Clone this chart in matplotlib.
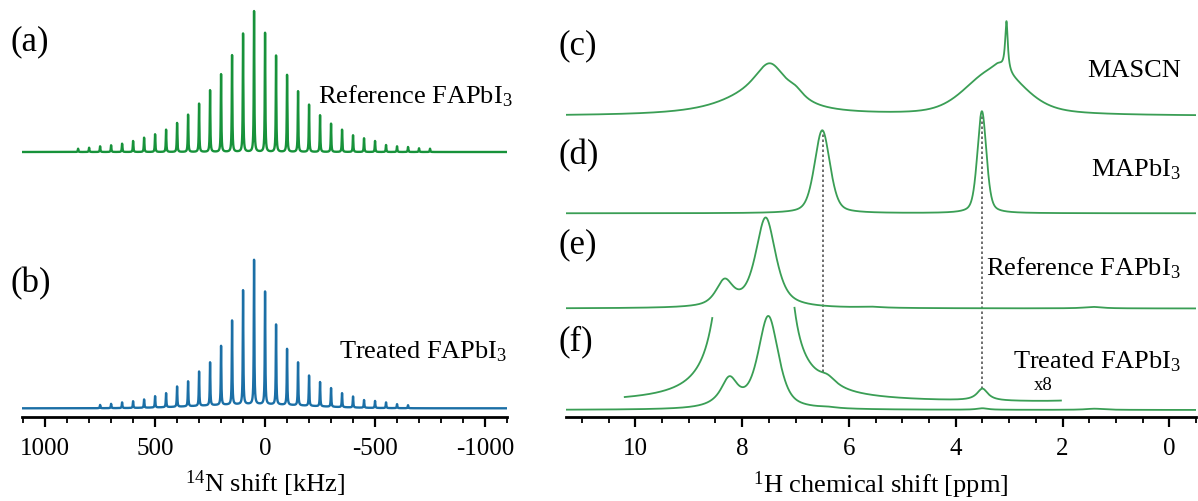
import numpy as np
import matplotlib
matplotlib.use("Agg")
import matplotlib.pyplot as plt
from matplotlib.ticker import MultipleLocator

plt.rcParams['font.family'] = ['Liberation Serif', 'DejaVu Serif']
plt.rcParams['mathtext.fontset'] = 'custom'
plt.rcParams['mathtext.rm'] = 'Liberation Serif'
plt.rcParams['mathtext.it'] = 'Liberation Serif:italic'
plt.rcParams['axes.unicode_minus'] = False

W, H = 1198, 501

# ---------------- 14N data (spinning sidebands, heights in px units) ----------------
sideband_spacing_khz = 50.0
center_khz = 50.0
# heights of sidebands k = 0, +1 (higher kHz), ..., +16 ; and -1 ... -16
ref_center = 140.7
ref_high = [118.3, 96.7, 77.7, 61.7, 48.3, 37.3, 29.0, 22.3, 17.7, 14.3, 11.0, 8.3, 6.7, 5.7, 4.3, 3.3]
ref_low = [119.0, 96.3, 77.0, 60.7, 47.3, 36.7, 28.3, 22.3, 16.7, 13.7, 11.0, 7.0, 5.7, 5.0, 3.7, 3.3]
trt_center = 144.3
trt_high = [114.0, 84.0, 59.0, 43.0, 34.3, 25.0, 20.3, 14.0, 11.3, 8.3, 6.7, 5.7, 4.3, 3.3]
trt_low = [112.7, 80.0, 56.0, 43.0, 30.3, 24.3, 18.7, 14.0, 11.0, 7.7, 7.0, 5.7, 4.0, 3.0]
ref_offset = 265.0
trt_offset = 8.7
trt_hump = 4.0

ticks_14n = [1000, 500, 0, -500, -1000]

# ---------------- 1H data: peaks (center ppm, height, fwhm ppm, lorentz fraction) ----------------
mascn_peaks = [(7.48, 44, 0.80, 1.0), (8.0, 10, 1.6, 1.0), (7.0, 8, 0.40, 1.0),
               (3.3, 30, 1.18, 0.0), (3.25, 10, 1.6, 1.0), (2.95, 6, 1.4, 1.0),
               (3.05, 50, 0.06, 1.0), (3.2, 6, 0.25, 1.0)]
mapbi_peaks = [(6.50, 83, 0.34, 0.4), (3.51, 102, 0.20, 0.4)]
ref_fa_peaks = [(7.56, 90, 0.45, 0.7), (8.33, 25, 0.38, 0.7), (5.6, 1.0, 0.5, 1.0), (1.43, 1.5, 0.4, 1.0)]
trt_fa_peaks = [(7.51, 92, 0.45, 0.6), (8.24, 29, 0.40, 1.0), (6.4, 1.0, 0.4, 1.0),
                (3.5, 1.5, 0.25, 1.0), (1.4, 1.2, 0.4, 1.0)]
offsets_1h = [301.0, 203.7, 108.5, 7.0]
x8_offset = 14.5
x8_factor = 8
x8_ranges = [(8.56, 10.2), (2.03, 7.02)]
dotted_ppm = [6.48, 3.51]
ticks_1h = [10, 8, 6, 4, 2, 0]


def pv(x, peaks):
    y = np.zeros_like(x)
    for c, h, fw, eta in peaks:
        g = fw / 2.0
        L = 1.0 / (1.0 + ((x - c) / g) ** 2)
        s = fw / 2.3548
        G = np.exp(-0.5 * ((x - c) / s) ** 2)
        y += h * (eta * L + (1 - eta) * G)
    return y


def sidebands(x, center_h, high, low, gamma=1.5):
    peaks = [(center_khz, center_h, 2 * gamma, 1.0)]
    for k, h in enumerate(high, start=1):
        peaks.append((center_khz + k * sideband_spacing_khz, h, 2 * gamma, 1.0))
    for k, h in enumerate(low, start=1):
        peaks.append((center_khz - k * sideband_spacing_khz, h, 2 * gamma, 1.0))
    return pv(x, peaks)


fig = plt.figure(figsize=(W / 100, H / 100), dpi=100)


def fx(px):
    return px / W


def fy(py):
    return 1 - py / H


# ---------- left axes ----------
axL = fig.add_axes([fx(22), fy(417), fx(507) - fx(22), fy(0) - fy(417)])
xk = np.linspace(1105, -1100, 40000)
ya = ref_offset + sidebands(xk, ref_center, ref_high, ref_low)
yb = trt_offset + sidebands(xk, trt_center, trt_high, trt_low) + trt_hump * np.exp(-0.5 * ((xk - 50) / 250) ** 2)
axL.plot(xk, ya, color='#17923a', lw=1.7)
axL.plot(xk, yb, color='#1b6fa6', lw=1.7)
axL.set_xlim(1105, -1100)
axL.set_ylim(0, 417)

# ---------- right axes ----------
axR = fig.add_axes([fx(566), fy(417), fx(1196) - fx(566), fy(0) - fy(417)])
xp = np.linspace(11.3, -0.5, 20000)
green = '#3a9e55'
spectra = [mascn_peaks, mapbi_peaks, ref_fa_peaks, trt_fa_peaks]
for peaks, off in zip(spectra, offsets_1h):
    axR.plot(xp, off + pv(xp, peaks), color=green, lw=1.3)
x8 = x8_offset + x8_factor * pv(xp, trt_fa_peaks)
for lo, hi in x8_ranges:
    m = (xp >= lo) & (xp <= hi)
    axR.plot(xp[m], x8[m], color=green, lw=1.3)
for p in dotted_ppm:
    top = offsets_1h[1] + pv(np.array([p]), mapbi_peaks)[0]
    bot = x8_offset + x8_factor * pv(np.array([p]), trt_fa_peaks)[0]
    axR.plot([p, p], [bot, top], color='#555555', lw=1.2, ls=(0, (1.5, 1.5)), zorder=0)
axR.set_xlim(11.3, -0.5)
axR.set_ylim(0, 417)

for ax in (axL, axR):
    for s in ('top', 'left', 'right'):
        ax.spines[s].set_visible(False)
    ax.spines['bottom'].set_linewidth(2.0)
    ax.set_yticks([])
    ax.tick_params(axis='x', which='major', direction='out', length=7, width=1.6, pad=8)
    ax.tick_params(axis='x', which='minor', direction='out', length=4, width=1.3)
    ax.patch.set_alpha(0)

axL.set_xticks(ticks_14n)
axL.xaxis.set_minor_locator(MultipleLocator(100))
axL.tick_params(axis='x', labelsize=18)
axL.set_xlabel('$^{14}$N shift [kHz]', fontsize=19, labelpad=6)

axR.set_xticks(ticks_1h)
axR.xaxis.set_minor_locator(MultipleLocator(0.5))
axR.tick_params(axis='x', labelsize=18)
axR.set_xlabel('$^{1}$H chemical shift [ppm]', fontsize=19, labelpad=7)


def label(px, py, s, size, ha='left'):
    fig.text(fx(px), fy(py), s, fontsize=size, ha=ha, va='center')


label(10, 42, '(a)', 25)
label(10, 284, '(b)', 25)
label(513, 96, 'Reference FAPbI$_3$', 19, ha='right')
label(507, 352, 'Treated FAPbI$_3$', 19, ha='right')

label(559, 46, '(c)', 25)
label(559, 156, '(d)', 25)
label(559, 245, '(e)', 25)
label(559, 342, '(f)', 25)
label(1181, 71, 'MASCN', 19, ha='right')
label(1181, 170, 'MAPbI$_3$', 19, ha='right')
label(1181, 268, 'Reference FAPbI$_3$', 19, ha='right')
label(1181, 362, 'Treated FAPbI$_3$', 19, ha='right')
label(1043, 385, 'x8', 13.5, ha='center')

fig.savefig('out.png', dpi=100)
